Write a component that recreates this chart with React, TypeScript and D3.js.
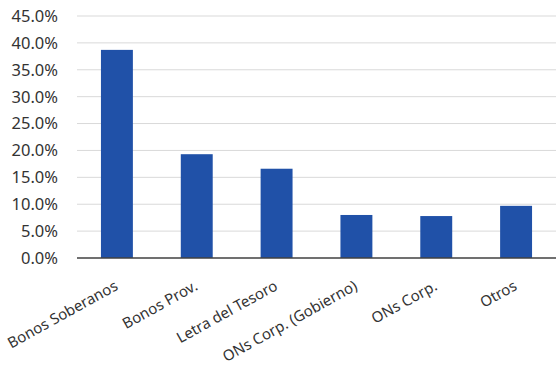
import React from "react";
import * as d3 from "d3";

const categories = ["Bonos Soberanos", "Bonos Prov.", "Letra del Tesoro", "ONs Corp. (Gobierno)", "ONs Corp.", "Otros"];
const values = [0.387, 0.193, 0.166, 0.08, 0.078, 0.097];
const yTicks = [0, 0.05, 0.1, 0.15, 0.2, 0.25, 0.3, 0.35, 0.4, 0.45];

const W = 556, H = 366;
const margin = { left: 77, right: 0, top: 16, bottom: 108 };

export default function App() {
  const x = d3.scaleBand<string>().domain(categories).range([margin.left, W - margin.right]).paddingInner(0.6).paddingOuter(0.3);
  const y = d3.scaleLinear().domain([0, 0.45]).range([H - margin.bottom, margin.top]);
  const fmt = d3.format(".1%");
  const font = "'Noto Sans', 'Open Sans', sans-serif";
  return (
    <svg width={W} height={H} style={{ position: "absolute", left: 0, top: 0 }}>
      <rect width={W} height={H} fill="#fff" />
      {yTicks.map((t) => (
        <g key={t}>
          {t > 0 && <line x1={margin.left} x2={W} y1={y(t)} y2={y(t)} stroke="#d9d9d9" strokeWidth={1} />}
          <text x={58} y={y(t)} dy="0.36em" textAnchor="end" fontFamily={font} fontSize={16.5} fill="#333">{fmt(t)}</text>
        </g>
      ))}
      {categories.map((c, i) => (
        <rect key={c} x={x(c)} y={y(values[i])} width={x.bandwidth()} height={y(0) - y(values[i])} fill="#2051a8" />
      ))}
      <line x1={margin.left} x2={W} y1={y(0)} y2={y(0)} stroke="#404040" strokeWidth={1.5} />
      {categories.map((c) => {
        const cx = (x(c) as number) + x.bandwidth() / 2;
        return (
          <text key={c} transform={`translate(${cx + 2},${y(0) + 31}) rotate(-29)`} textAnchor="end" fontFamily={font} fontSize={15} fill="#333">{c}</text>
        );
      })}
    </svg>
  );
}
